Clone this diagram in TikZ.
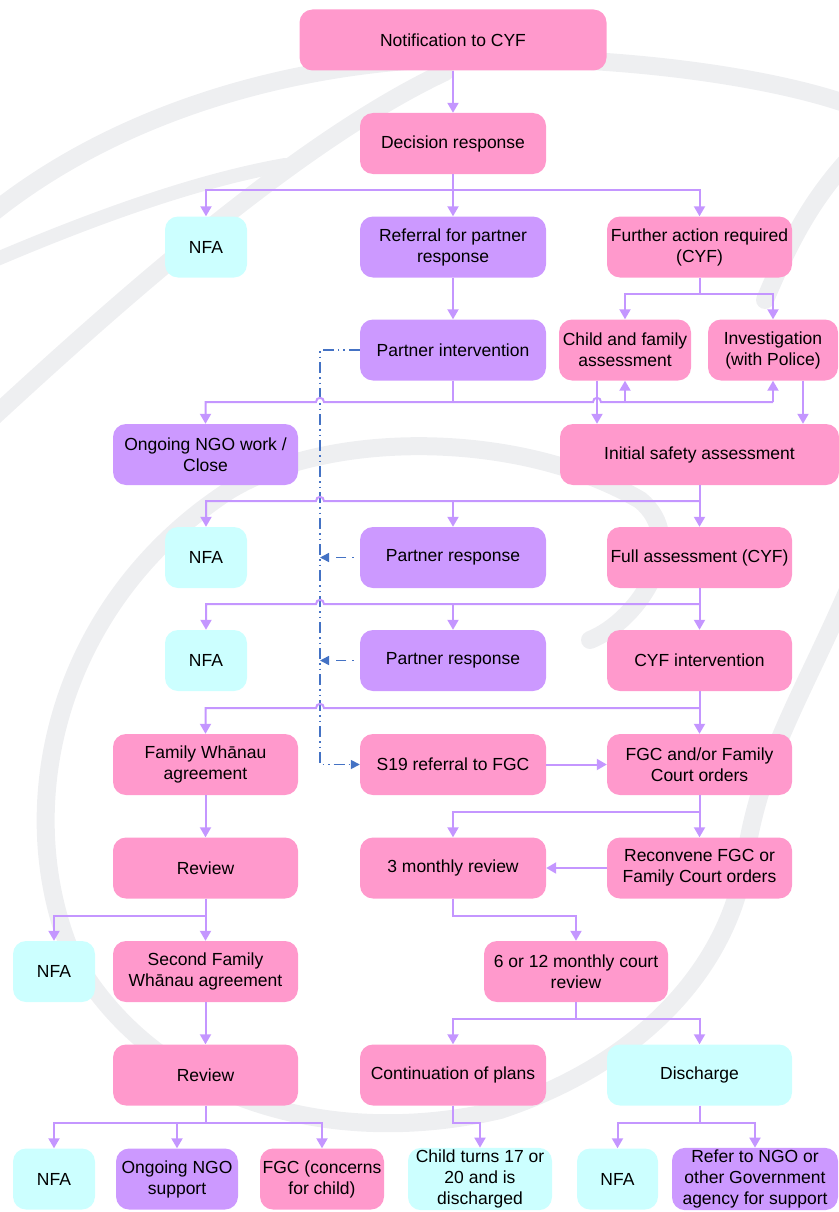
\documentclass[tikz,border=0pt]{standalone}
\usepackage{fontspec}
\setmainfont{Liberation Sans}
\usetikzlibrary{arrows.meta}
\definecolor{pk}{HTML}{FF99CC}
\definecolor{pu}{HTML}{CC99FF}
\definecolor{cy}{HTML}{CCFFFF}
\definecolor{lnc}{RGB}{196,150,255}
\definecolor{blc}{HTML}{4472C4}
\definecolor{wmc}{RGB}{238,239,241}
\begin{document}
\begin{tikzpicture}[x=1pt,y=-1pt,
 box/.style={rounded corners=13pt, minimum height=61pt, align=center, inner sep=2pt, font=\fontsize{17.5}{21}\selectfont, text=black},
 pkbox/.style={box, fill=pk},
 pubox/.style={box, fill=pu},
 cybox/.style={box, fill=cy},
 conn/.style={draw=lnc, line width=2pt},
 arr/.style={conn, -{Triangle[width=11pt,length=10pt]}},
 blu/.style={draw=blc, line width=1.6pt, dash pattern=on 11pt off 4pt on 1.5pt off 4pt on 1.5pt off 4pt},
 bluarr/.style={blu, -{Triangle[width=9pt,length=9pt]}},
 blushort/.style={draw=blc, line width=1.6pt, dash pattern=on 1.5pt off 6pt on 10pt off 20pt, -{Triangle[width=9pt,length=9pt]}},
 wmk/.style={draw=wmc, line width=18pt, line cap=round}]
\useasboundingbox (0,0) rectangle (838,1212);
% watermark
\draw[wmk] (-10,215) .. controls (120,110) and (300,60) .. (470,58) .. controls (640,56) and (780,80) .. (850,105);
\draw[wmk, line width=14pt] (-10,262) .. controls (100,215) and (200,180) .. (285,165);
\draw[wmk] (-10,420) .. controls (120,300) and (300,140) .. (445,72);
\draw[wmk] (848,160) .. controls (812,200) and (790,240) .. (765,300);
\draw[wmk] (848,590) .. controls (800,700) and (760,760) .. (745,860) .. controls (730,960) and (650,1060) .. (500,1110) .. controls (330,1150) and (150,1100) .. (70,950) .. controls (10,800) and (60,600) .. (230,490) .. controls (330,430) and (520,430) .. (640,500) .. controls (690,540) and (640,620) .. (590,640);
% nodes
\node[pkbox, minimum width=307pt] (notif) at (453,40) {Notification to CYF};
\node[pkbox, minimum width=186pt] (decision) at (453,143.5) {Decision response};
\node[cybox, minimum width=82pt] (nfa1) at (206,247) {NFA};
\node[pubox, minimum width=186pt] (referral) at (453,247) {Referral for partner\\response};
\node[pkbox, minimum width=185pt] (further) at (699.5,247) {Further action required\\(CYF)};
\node[pubox, minimum width=186pt] (partner) at (453,350) {Partner intervention};
\node[pkbox, minimum width=132pt] (cfa) at (625,350) {Child and family\\assessment};
\node[pkbox, minimum width=130pt] (invest) at (773,350) {Investigation\\(with Police)};
\node[pubox, minimum width=185pt] (ongoing) at (205.5,454.5) {Ongoing NGO work /\\Close};
\node[pkbox, minimum width=279pt] (initial) at (699.5,454.5) {Initial safety assessment};
\node[cybox, minimum width=82pt] (nfa2) at (206,557.5) {NFA};
\node[pubox, minimum width=186pt] (presp1) at (453,557.5) {Partner response};
\node[pkbox, minimum width=185pt] (fullass) at (699.5,557.5) {Full assessment (CYF)};
\node[cybox, minimum width=82pt] (nfa3) at (206,660.5) {NFA};
\node[pubox, minimum width=186pt] (presp2) at (453,660.5) {Partner response};
\node[pkbox, minimum width=185pt] (cyfint) at (699.5,660.5) {CYF intervention};
\node[pkbox, minimum width=185pt] (fwa) at (205.5,764.5) {Family Whānau\\agreement};
\node[pkbox, minimum width=186pt] (s19) at (453,764.5) {S19 referral to FGC};
\node[pkbox, minimum width=185pt] (fgc) at (699.5,764.5) {FGC and/or Family\\Court orders};
\node[pkbox, minimum width=185pt] (review1) at (205.5,868) {Review};
\node[pkbox, minimum width=186pt] (monthly3) at (453,868) {3 monthly review};
\node[pkbox, minimum width=185pt] (reconvene) at (699.5,868) {Reconvene FGC or\\Family Court orders};
\node[cybox, minimum width=82pt] (nfa4) at (54,971.5) {NFA};
\node[pkbox, minimum width=185pt] (sfwa) at (205.5,971.5) {Second Family\\Whānau agreement};
\node[pkbox, minimum width=184pt] (court) at (576,971.5) {6 or 12 monthly court\\review};
\node[pkbox, minimum width=185pt] (review2) at (205.5,1075) {Review};
\node[pkbox, minimum width=186pt] (contin) at (453,1075) {Continuation of plans};
\node[cybox, minimum width=185pt] (discharge) at (699.5,1075) {Discharge};
\node[cybox, minimum width=82pt] (nfa5) at (54,1179) {NFA};
\node[pubox, minimum width=122pt] (ongsup) at (177,1179) {Ongoing NGO\\support};
\node[pkbox, minimum width=124pt] (fgcc) at (322,1179) {FGC (concerns\\for child)};
\node[cybox, minimum width=144pt] (child) at (480,1179) {Child turns 17 or\\20 and is\\discharged};
\node[cybox, minimum width=81pt] (nfa6) at (617.5,1179) {NFA};
\node[pubox, minimum width=166pt] (refer) at (755,1179) {Refer to NGO or\\other Government\\agency for support};
% blue dash-dot connectors
\coordinate (bt) at (320,350);
\coordinate (bb) at (320,764.5);
\draw[bluarr] (partner.west) -- (bt) -- (bb) -- (s19.west);
\draw[blushort] ([xshift=-6pt]presp1.west) -- (presp1.west -| bt);
\draw[blushort] ([xshift=-6pt]presp2.west) -- (presp2.west -| bt);
% purple connectors
\draw[arr] (notif.south) -- (decision.north);
\coordinate (b1) at (453,190);
\draw[conn] (decision.south) -- (b1);
\draw[arr] (b1) -| (nfa1.north);
\draw[arr] (b1) -| (further.north);
\draw[arr] (b1) -- (referral.north);
\draw[arr] (referral.south) -- (partner.north);
\coordinate (b2) at (699.5,294);
\draw[conn] (further.south) -- (b2);
\draw[arr] (b2) -| (cfa.north);
\draw[arr] (b2) -| (invest.north);
\coordinate (b3) at (453,402);
\draw[conn] (partner.south) -- (b3);
\draw[arr] (b3) -- (324,402) .. controls (324,396.5) and (316,396.5) .. (316,402) -| (ongoing.north);
\draw[conn] (b3) -- (593,402) .. controls (593,396.5) and (601,396.5) .. (601,402) -- (773,402);
\draw[arr] (cfa.south |- b3) -- (cfa.south);
\draw[arr] (invest.south |- b3) -- (invest.south);
\draw[arr] ([xshift=-28pt]cfa.south) -- ([xshift=-28pt]cfa.south |- initial.north);
\draw[arr] ([xshift=30pt]invest.south) -- ([xshift=30pt]invest.south |- initial.north);
\coordinate (b4) at (699.5,501);
\draw[conn] (initial.south) -- (b4);
\draw[arr] (b4) -- (fullass.north);
\draw[arr] (b4) -- (324,501) .. controls (324,495.5) and (316,495.5) .. (316,501) -| (nfa2.north);
\draw[arr] (presp1.north |- b4) -- (presp1.north);
\coordinate (b5) at (699.5,604);
\draw[conn] (fullass.south) -- (b5);
\draw[arr] (b5) -- (cyfint.north);
\draw[arr] (b5) -- (324,604) .. controls (324,598.5) and (316,598.5) .. (316,604) -| (nfa3.north);
\draw[arr] (presp2.north |- b5) -- (presp2.north);
\coordinate (b6) at (699.5,708);
\draw[conn] (cyfint.south) -- (b6);
\draw[arr] (b6) -- (fgc.north);
\draw[arr] (b6) -- (324,708) .. controls (324,702.5) and (316,702.5) .. (316,708) -| (fwa.north);
\draw[arr] (s19.east) -- (fgc.west);
\coordinate (b7) at (699.5,812);
\draw[conn] (fgc.south) -- (b7);
\draw[arr] (b7) -- (reconvene.north);
\draw[arr] (b7) -| (monthly3.north);
\draw[arr] (reconvene.west) -- (monthly3.east);
\draw[arr] (monthly3.south) -- ++(0,17) -| (court.north);
\draw[arr] (fwa.south) -- (review1.north);
\draw[conn] (review1.south) -- ++(0,17) coordinate (b9);
\draw[arr] (b9) -| (nfa4.north);
\draw[arr] (b9) -- (sfwa.north);
\draw[arr] (sfwa.south) -- (review2.north);
\draw[conn] (court.south) -- ++(0,16.5) coordinate (b10);
\draw[arr] (b10) -| (contin.north);
\draw[arr] (b10) -| (discharge.north);
\draw[conn] (review2.south) -- ++(0,17) coordinate (b11);
\draw[arr] (b11) -| (nfa5.north);
\draw[arr] (b11) -| (ongsup.north);
\draw[arr] (b11) -| (fgcc.north);
\draw[arr] (contin.south) -- ++(0,17) -| (child.north);
\draw[conn] (discharge.south) -- ++(0,17) coordinate (b12);
\draw[arr] (b12) -| (nfa6.north);
\draw[arr] (b12) -| (refer.north);
\end{tikzpicture}
\end{document}
